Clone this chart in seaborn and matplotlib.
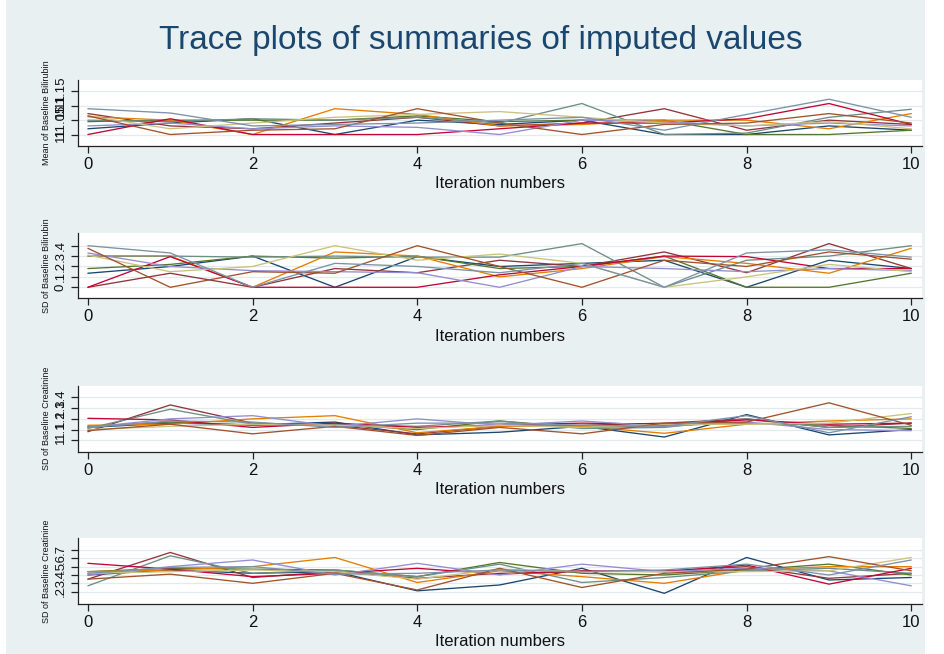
import numpy as np
import pandas as pd
import matplotlib
matplotlib.use("Agg")
import matplotlib.pyplot as plt
from matplotlib.patches import Rectangle
import seaborn as sns

sns.set_theme(style="white")
plt.rcParams["font.family"] = ["Liberation Sans", "DejaVu Sans"]

iterations = list(range(11))
imputations = [f"m{i}" for i in range(1, 11)]

# Stata s2color series colours, one per imputation
colors = ["#1a476f", "#90353b", "#55752f", "#e37e00", "#6e8e84",
          "#c10534", "#938dd2", "#cac27e", "#a0522d", "#7b92a8"]

mean_bilirubin = [
    [11.02, 11.04, 11.055, 11.00, 11.05, 11.035, 11.05, 11.00, 11.00, 11.03, 11.015],
    [11.073, 11.03, 11.02, 11.04, 11.06, 11.03, 11.04, 11.09, 11.015, 11.05, 11.035],
    [11.045, 11.05, 11.05, 11.05, 11.065, 11.045, 11.05, 11.05, 11.00, 11.00, 11.015],
    [11.062, 11.05, 11.00, 11.09, 11.07, 11.03, 11.035, 11.05, 11.05, 11.02, 11.073],
    [11.05, 11.045, 11.055, 11.05, 11.06, 11.04, 11.108, 11.00, 11.005, 11.06, 11.088],
    [11.00, 11.055, 11.00, 11.00, 11.00, 11.02, 11.04, 11.04, 11.055, 11.108, 11.035],
    [11.03, 11.04, 11.02, 11.03, 11.025, 11.00, 11.05, 11.045, 11.03, 11.04, 11.03],
    [11.065, 11.02, 11.04, 11.06, 11.07, 11.08, 11.06, 11.04, 11.03, 11.045, 11.02],
    [11.065, 11.00, 11.015, 11.02, 11.09, 11.04, 11.00, 11.035, 11.04, 11.073, 11.04],
    [11.09, 11.075, 11.03, 11.035, 11.04, 11.05, 11.06, 11.015, 11.07, 11.123, 11.06],
]

sd_bilirubin = [
    [0.135, 0.20, 0.30, 0.00, 0.295, 0.20, 0.23, 0.26, 0.00, 0.26, 0.18],
    [0.00, 0.135, 0.00, 0.18, 0.14, 0.26, 0.20, 0.34, 0.14, 0.42, 0.18],
    [0.18, 0.22, 0.30, 0.28, 0.30, 0.18, 0.20, 0.30, 0.00, 0.00, 0.135],
    [0.30, 0.30, 0.00, 0.34, 0.30, 0.10, 0.18, 0.295, 0.23, 0.135, 0.375],
    [0.30, 0.30, 0.29, 0.30, 0.29, 0.29, 0.42, 0.00, 0.26, 0.30, 0.40],
    [0.00, 0.295, 0.00, 0.00, 0.00, 0.12, 0.20, 0.30, 0.295, 0.18, 0.18],
    [0.33, 0.20, 0.16, 0.15, 0.14, 0.00, 0.20, 0.18, 0.15, 0.18, 0.16],
    [0.31, 0.15, 0.20, 0.40, 0.26, 0.32, 0.23, 0.00, 0.10, 0.22, 0.15],
    [0.375, 0.00, 0.15, 0.135, 0.40, 0.20, 0.00, 0.26, 0.20, 0.34, 0.27],
    [0.40, 0.33, 0.00, 0.23, 0.20, 0.14, 0.23, 0.00, 0.33, 0.36, 0.29],
]

creatinine_a = [
    [1.12, 1.16, 1.145, 1.17, 1.05, 1.075, 1.13, 1.03, 1.24, 1.05, 1.10],
    [1.08, 1.33, 1.16, 1.14, 1.06, 1.13, 1.14, 1.16, 1.20, 1.12, 1.16],
    [1.13, 1.17, 1.14, 1.15, 1.10, 1.18, 1.12, 1.14, 1.16, 1.14, 1.11],
    [1.14, 1.15, 1.20, 1.23, 1.07, 1.13, 1.13, 1.065, 1.15, 1.18, 1.20],
    [1.11, 1.29, 1.15, 1.15, 1.13, 1.18, 1.11, 1.12, 1.20, 1.12, 1.13],
    [1.205, 1.19, 1.12, 1.16, 1.12, 1.14, 1.16, 1.15, 1.19, 1.15, 1.16],
    [1.12, 1.20, 1.23, 1.13, 1.20, 1.14, 1.18, 1.13, 1.17, 1.10, 1.09],
    [1.10, 1.13, 1.15, 1.14, 1.11, 1.14, 1.12, 1.15, 1.15, 1.16, 1.25],
    [1.09, 1.15, 1.06, 1.13, 1.045, 1.12, 1.06, 1.16, 1.17, 1.35, 1.14],
    [1.12, 1.18, 1.17, 1.12, 1.16, 1.16, 1.14, 1.13, 1.23, 1.07, 1.22],
]

creatinine_b = [
    [0.40, 0.46, 0.42, 0.44, 0.21, 0.28, 0.48, 0.18, 0.61, 0.34, 0.37],
    [0.35, 0.67, 0.37, 0.44, 0.36, 0.42, 0.44, 0.45, 0.50, 0.36, 0.42],
    [0.44, 0.48, 0.47, 0.46, 0.38, 0.55, 0.42, 0.40, 0.46, 0.53, 0.40],
    [0.44, 0.46, 0.50, 0.61, 0.31, 0.45, 0.38, 0.30, 0.46, 0.50, 0.50],
    [0.27, 0.63, 0.42, 0.46, 0.38, 0.53, 0.31, 0.37, 0.45, 0.48, 0.42],
    [0.54, 0.47, 0.38, 0.42, 0.48, 0.41, 0.45, 0.44, 0.52, 0.29, 0.48],
    [0.40, 0.50, 0.58, 0.40, 0.54, 0.40, 0.53, 0.44, 0.48, 0.45, 0.27],
    [0.42, 0.44, 0.46, 0.44, 0.35, 0.47, 0.44, 0.44, 0.44, 0.45, 0.61],
    [0.35, 0.41, 0.30, 0.42, 0.22, 0.48, 0.25, 0.42, 0.47, 0.62, 0.45],
    [0.42, 0.49, 0.50, 0.41, 0.42, 0.46, 0.44, 0.46, 0.53, 0.40, 0.58],
]

panels = [
    ("Mean of Baseline Bilirubin", mean_bilirubin,
     [11.0, 11.05, 11.1, 11.15], ["11", "11.05", "11.1", "11.15"], (10.96, 11.19)),
    ("SD of Baseline Bilirubin", sd_bilirubin,
     [0, 0.1, 0.2, 0.3, 0.4], ["0", ".1", ".2", ".3", ".4"], (-0.106, 0.525)),
    ("SD of Baseline Creatinine", creatinine_a,
     [1.0, 1.1, 1.2, 1.3, 1.4], ["1", "1.1", "1.2", "1.3", "1.4"], (0.893, 1.51)),
    ("SD of Baseline Creatinine", creatinine_b,
     [0.2, 0.3, 0.4, 0.5, 0.6, 0.7], [".2", ".3", ".4", ".5", ".6", ".7"], (0.052, 0.84)),
]

W, H = 944, 654
fig = plt.figure(figsize=(W / 100, H / 100), dpi=100, facecolor="white")
fig.patches.append(Rectangle((6 / W, 0), 919 / W, 1, transform=fig.transFigure,
                             facecolor="#e9f0f2", edgecolor="none", zorder=-10))

# top/bottom pixel rows of each plot region
boxes = [(80, 146), (232.7, 298.3), (385.7, 451.7), (538.3, 604)]
left_px, right_px = 78, 922

for (ylabel, series, yticks, yticklabels, ylim), (top, bot) in zip(panels, boxes):
    ax = fig.add_axes([left_px / W, 1 - bot / H, (right_px - left_px) / W, (bot - top) / H])
    ax.set_facecolor("white")
    df = pd.DataFrame(
        [(it, m, v) for m, vals in zip(imputations, series) for it, v in zip(iterations, vals)],
        columns=["iteration", "imputation", "value"],
    )
    sns.lineplot(data=df, x="iteration", y="value", hue="imputation",
                 palette=colors, linewidth=0.95, legend=False, ax=ax, zorder=3)
    ax.set_xlim(-0.12, 10.13)
    ax.set_ylim(*ylim)
    ax.set_xticks([0, 2, 4, 6, 8, 10])
    ax.set_xticklabels(["0", "2", "4", "6", "8", "10"], fontsize=12, color="#111111")
    ax.set_yticks(yticks)
    ax.set_yticklabels(yticklabels, rotation=90, va="center", fontsize=9.5, color="#111111")
    for y in yticks:
        ax.axhline(y, color="#e3eaee", linewidth=0.9, zorder=1)
    for side in ("top", "right"):
        ax.spines[side].set_visible(False)
    for side in ("left", "bottom"):
        ax.spines[side].set_color("#222222")
        ax.spines[side].set_linewidth(0.9)
    ax.tick_params(axis="both", which="both", direction="out", length=5, width=0.9,
                   color="#222222", left=True, bottom=True, pad=3)
    ax.set_xlabel("Iteration numbers", fontsize=12, color="#111111", labelpad=3)
    ax.set_ylabel(ylabel, fontsize=6.5, color="#111111", labelpad=3)

fig.text(481 / W, 1 - 40 / H, "Trace plots of summaries of imputed values",
         ha="center", va="center", fontsize=24, color="#1a476f")

fig.savefig("out.png", dpi=100, facecolor="white")
